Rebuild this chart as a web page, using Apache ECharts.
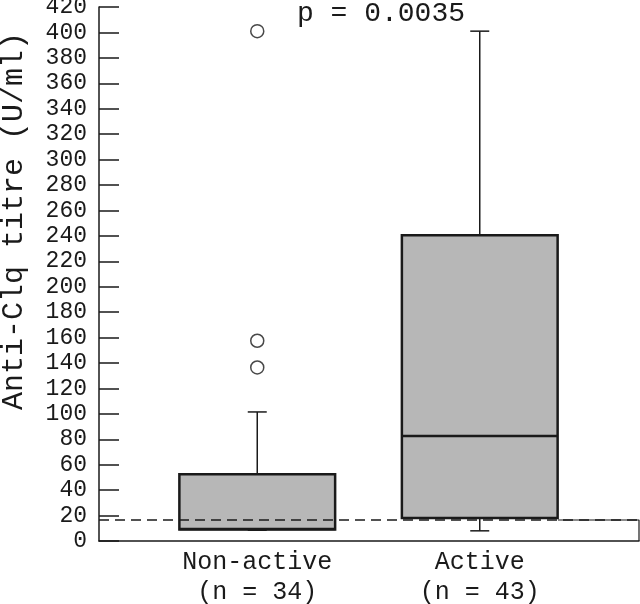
<!DOCTYPE html>
<html>
<head>
<meta charset="utf-8">
<script src="https://cdn.jsdelivr.net/npm/echarts@6/dist/echarts.min.js"></script>
<style>
  html, body { margin: 0; padding: 0; background: #fff; }
  #chart { width: 640px; height: 604px; }
</style>
</head>
<body>
<div id="chart"></div>
<script>
// groups on the x axis
const groups = ['Non-active\n(n = 34)', 'Active\n(n = 43)']
// [lower whisker, Q1, median, Q3, upper whisker]
const nonActiveBox = [8.5, 9, 9.5, 52.5, 101.5]
const activeBox = [8, 18, 82.5, 240.5, 401]
// [group index, value]
const outliers = [[0, 401], [0, 157.5], [0, 136.5]]
// cut-off (dashed line)
const cutoff = 17
const yMin = 0
const yMax = 420
const yStep = 20
const pText = 'p = 0.0035'
const yTitle = 'Anti-Clq titre (U/ml)'

// little frame edge to the right of the Active box
const frameEdge = [[0.85, 16.5], [1, 16.5], [1, 0]]

const font = 'Liberation Mono'
const ink = '#1a1a1a'

let myChart = echarts.init(document.getElementById('chart'))

myChart.setOption({
  animation: false,
  grid: [
    { left: 99, right: 1, top: 7, bottom: 63, outerBoundsMode: 'none', containLabel: false },
    { left: 146, right: 49, top: 7, bottom: 63, outerBoundsMode: 'none', containLabel: false }
  ],
  xAxis: [
    {
      type: 'value',
      gridIndex: 0,
      min: 0,
      max: 1,
      axisLine: { show: true, lineStyle: { color: ink, width: 1.5 } },
      axisTick: { show: false },
      axisLabel: { show: false },
      splitLine: { show: false }
    },
    {
      type: 'category',
      gridIndex: 1,
      data: groups,
      axisLine: { show: false },
      axisTick: { show: false },
      axisLabel: {
        fontFamily: font,
        fontSize: 25,
        lineHeight: 30,
        color: ink,
        margin: 6
      },
      splitLine: { show: false }
    }
  ],
  yAxis: [
    {
      type: 'value',
      gridIndex: 0,
      min: yMin,
      max: yMax,
      interval: yStep,
      axisLine: { show: true, lineStyle: { color: ink, width: 1.5 } },
      axisTick: { show: true, inside: true, length: 20, lineStyle: { color: ink, width: 1.5 } },
      axisLabel: { fontFamily: font, fontSize: 23, color: ink, margin: 12, padding: [3, 0, 0, 0] },
      splitLine: { show: false }
    },
    {
      type: 'value',
      gridIndex: 1,
      min: yMin,
      max: yMax,
      show: false
    }
  ],
  graphic: [
    {
      type: 'text',
      x: 14,
      y: 221,
      rotation: Math.PI / 2,
      style: {
        text: yTitle,
        font: '30px "' + font + '"',
        fill: ink,
        textAlign: 'center',
        textVerticalAlign: 'middle'
      }
    },
    {
      type: 'text',
      x: 381,
      y: 0,
      style: {
        text: pText,
        font: '28px "' + font + '"',
        fill: ink,
        textAlign: 'center',
        textVerticalAlign: 'top'
      }
    }
  ],
  series: [
    {
      type: 'line',
      xAxisIndex: 0,
      yAxisIndex: 0,
      data: frameEdge,
      symbol: 'none',
      lineStyle: { color: ink, width: 1.2 },
      z: 1,
      markLine: {
        silent: true,
        symbol: 'none',
        label: { show: false },
        lineStyle: { color: ink, width: 1.5, type: [10, 6] },
        data: [{ yAxis: cutoff }]
      }
    },
    {
      type: 'custom',
      xAxisIndex: 1,
      yAxisIndex: 1,
      data: [[0].concat(nonActiveBox), [1].concat(activeBox)],
      encode: { x: 0, y: [1, 2, 3, 4, 5] },
      z: 2,
      renderItem: function (params, api) {
        const c = api.value(0)
        const lo = api.coord([c, api.value(1)])
        const q1 = api.coord([c, api.value(2)])
        const med = api.coord([c, api.value(3)])
        const q3 = api.coord([c, api.value(4)])
        const hi = api.coord([c, api.value(5)])
        const x = lo[0]
        const w = api.size([1, 0])[0] * 0.7
        const cap = 19
        const thin = { stroke: ink, lineWidth: 1.5 }
        return {
          type: 'group',
          children: [
            { type: 'line', shape: { x1: x, y1: hi[1], x2: x, y2: q3[1] }, style: thin },
            { type: 'line', shape: { x1: x - cap / 2, y1: hi[1], x2: x + cap / 2, y2: hi[1] }, style: thin },
            { type: 'line', shape: { x1: x, y1: lo[1], x2: x, y2: q1[1] }, style: thin },
            { type: 'line', shape: { x1: x - cap / 2, y1: lo[1], x2: x + cap / 2, y2: lo[1] }, style: thin },
            {
              type: 'rect',
              shape: { x: x - w / 2, y: q3[1], width: w, height: q1[1] - q3[1] },
              style: { fill: '#b7b7b7', stroke: ink, lineWidth: 2.5 }
            },
            {
              type: 'line',
              shape: { x1: x - w / 2, y1: med[1], x2: x + w / 2, y2: med[1] },
              style: { stroke: ink, lineWidth: 2.5 }
            }
          ]
        }
      }
    },
    {
      type: 'scatter',
      xAxisIndex: 1,
      yAxisIndex: 1,
      data: outliers,
      symbol: 'circle',
      symbolSize: 13,
      itemStyle: { color: '#fff', borderColor: ink, borderWidth: 1.5 },
      z: 3
    }
  ]
})
</script>
</body>
</html>
